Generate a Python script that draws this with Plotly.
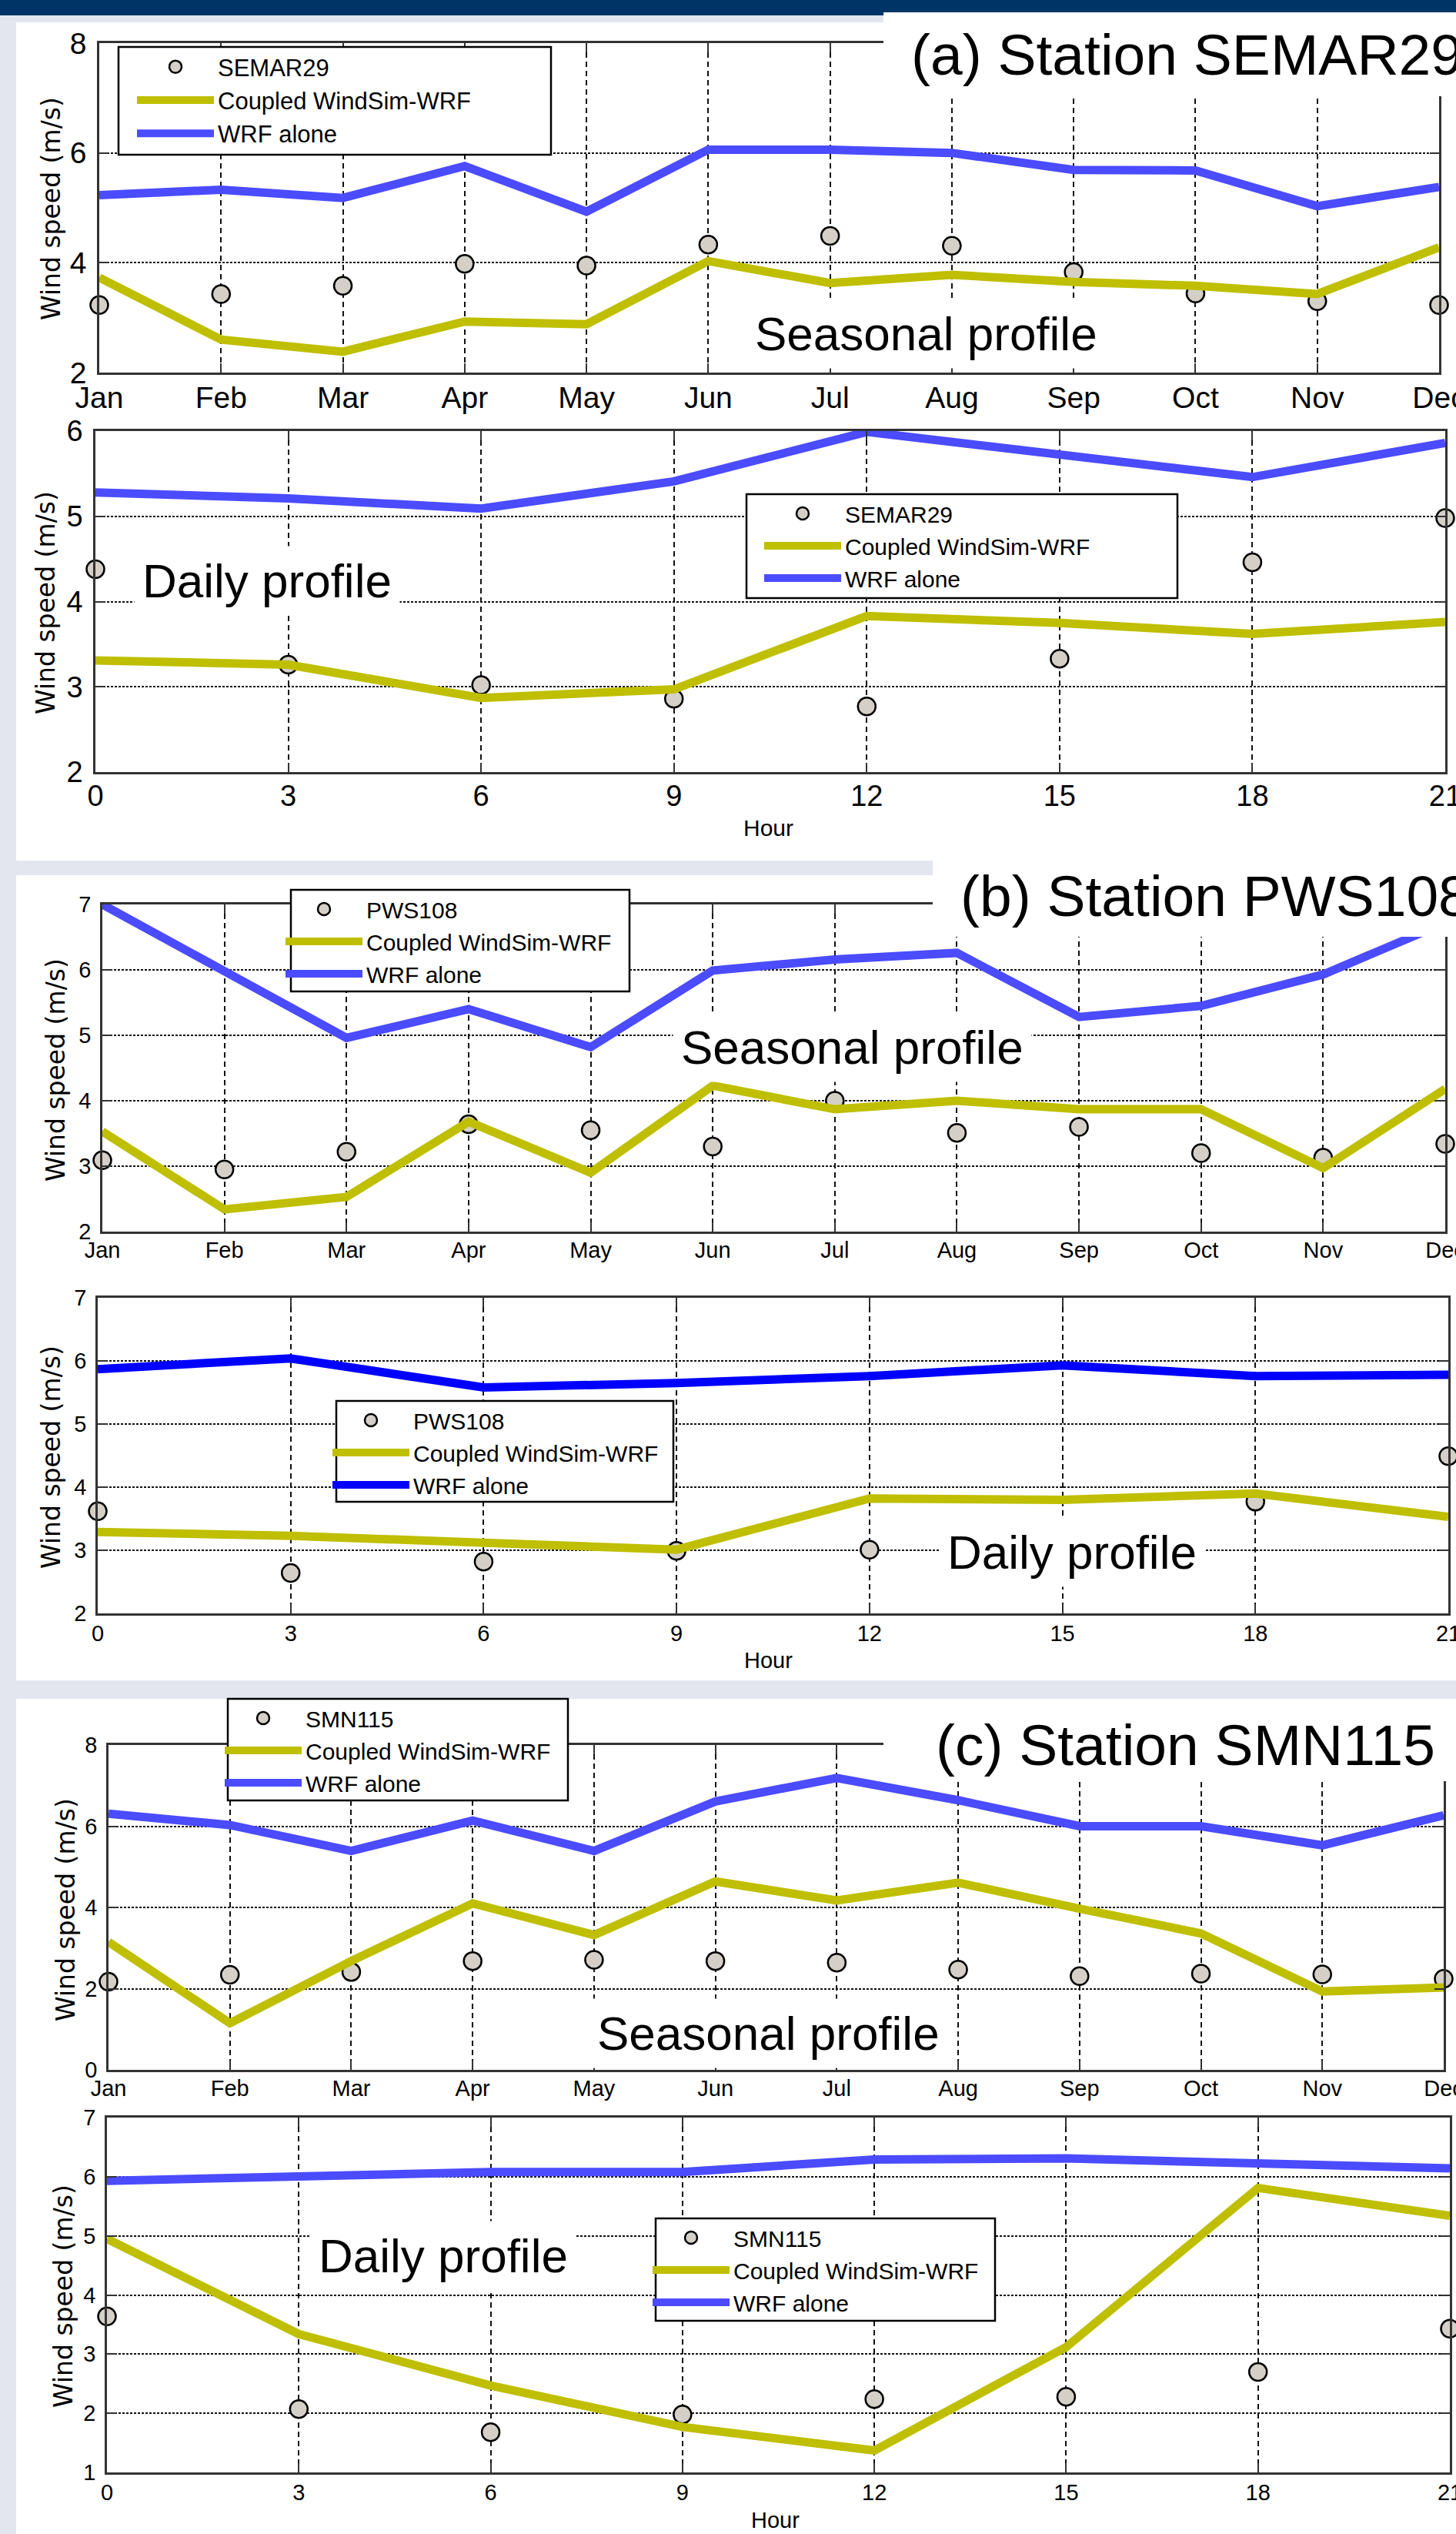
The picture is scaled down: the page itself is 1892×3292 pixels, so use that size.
import plotly.graph_objects as go

# ---------------- data ----------------
months = ["Jan", "Feb", "Mar", "Apr", "May", "Jun", "Jul", "Aug", "Sep", "Oct", "Nov", "Dec"]
hours = [0, 3, 6, 9, 12, 15, 18, 21]
hour_labels = ["0", "3", "6", "9", "12", "15", "18", "21"]

a_season_obs = [3.23, 3.43, 3.58, 3.98, 3.95, 4.33, 4.49, 4.31, 3.83, 3.44, 3.30, 3.23]
a_season_coupled = [3.73, 2.60, 2.38, 2.93, 2.88, 4.03, 3.63, 3.78, 3.65, 3.58, 3.43, 4.28]
a_season_wrf = [5.23, 5.33, 5.18, 5.76, 4.93, 6.06, 6.06, 6.00, 5.69, 5.68, 5.03, 5.38]

a_daily_obs = [4.38, 3.26, 3.02, 2.86, 2.77, 3.33, 4.46, 4.98]
a_daily_coupled = [3.31, 3.26, 2.87, 2.97, 3.83, 3.75, 3.62, 3.76]
a_daily_wrf = [5.28, 5.21, 5.09, 5.41, 5.99, 5.73, 5.46, 5.86]

b_season_obs = [3.09, 2.95, 3.22, 3.64, 3.55, 3.30, 4.00, 3.51, 3.60, 3.20, 3.13, 3.34]
b_season_coupled = [3.53, 2.34, 2.53, 3.68, 2.90, 4.23, 3.87, 4.00, 3.87, 3.87, 2.97, 4.18]
b_season_wrf = [7.00, 5.97, 4.96, 5.40, 4.82, 5.99, 6.16, 6.26, 5.28, 5.45, 5.93, 6.72]

b_daily_obs = [3.62, 2.64, 2.82, 2.99, 3.01, None, 3.77, 4.49]
b_daily_coupled = [3.29, 3.23, 3.12, 3.01, 3.82, 3.80, 3.90, 3.53]
b_daily_wrf = [5.87, 6.04, 5.58, 5.65, 5.76, 5.93, 5.76, 5.78]

c_season_obs = [2.17, 2.34, 2.41, 2.68, 2.71, 2.68, 2.64, 2.47, 2.31, 2.37, 2.35, 2.24]
c_season_coupled = [3.15, 1.15, 2.68, 4.10, 3.32, 4.64, 4.17, 4.61, 3.97, 3.36, 1.93, 2.03]
c_season_wrf = [6.31, 6.03, 5.39, 6.14, 5.39, 6.61, 7.19, 6.64, 6.00, 6.00, 5.53, 6.27]

c_daily_obs = [3.64, 2.07, 1.68, 1.98, 2.24, 2.28, 2.70, 3.43]
c_daily_coupled = [4.95, 3.34, 2.47, 1.77, 1.37, 3.12, 5.81, 5.34]
c_daily_wrf = [5.93, 6.02, 6.08, 6.08, 6.29, 6.31, 6.22, 6.14]

stations = ["SEMAR29", "PWS108", "SMN115"]
titles = ["(a) Station SEMAR29", "(b) Station PWS108", "(c) Station SMN115"]
name_coupled = "Coupled WindSim-WRF"
name_wrf = "WRF alone"
ytitle = "Wind speed (m/s)"
xtitle = "Hour"

# ---------------- layout helpers ----------------
W, H = 1892, 3292


def fx(x):
    return x / W


def fy(y):
    return 1 - y / H


FONT = "Liberation Sans, Arial, Helvetica, sans-serif"
YT_FONT = "DejaVu Sans, Verdana, sans-serif"
BLUE = "#4b4bff"
BLUE_DARK = "#0000ff"
YEL = "#bfbf00"
OBS_FILL = "#d4d0c8"
BG = "#e3e6ee"
NAVY = "#003366"

# leg = (left, right, top, bottom, text offset from left)
panels = [
    dict(kind="s", obs=a_season_obs, cpl=a_season_coupled, wrf=a_season_wrf, st=0,
         dom=(129, 1870, 56, 484), yr=[2, 8], dt=2, tf=39, blue=BLUE,
         leg=(154, 716, 61, 201, 129), lf=31, yt=(66, 271), xs=-4),
    dict(kind="d", obs=a_daily_obs, cpl=a_daily_coupled, wrf=a_daily_wrf, st=0,
         dom=(124, 1878, 560, 1003), yr=[2, 6], dt=1, tf=38, blue=BLUE,
         leg=(970, 1530, 642, 777, 128), lf=30, yt=(60, 783), xt=(998, 1075, 30), xs=-4),
    dict(kind="s", obs=b_season_obs, cpl=b_season_coupled, wrf=b_season_wrf, st=1,
         dom=(133, 1878, 1175, 1600), yr=[2, 7], dt=1, tf=29, blue=BLUE,
         leg=(378, 818, 1156, 1288, 98), lf=30, yt=(72, 1390), xs=-4),
    dict(kind="d", obs=b_daily_obs, cpl=b_daily_coupled, wrf=b_daily_wrf, st=1,
         dom=(127, 1882, 1686, 2096), yr=[2, 7], dt=1, tf=29, blue=BLUE_DARK,
         leg=(437, 875, 1820, 1951, 100), lf=30, yt=(66, 1893), xt=(998, 2157, 29), xs=-2),
    dict(kind="s", obs=c_season_obs, cpl=c_season_coupled, wrf=c_season_wrf, st=2,
         dom=(141, 1876, 2267, 2689), yr=[0, 8], dt=2, tf=29, blue=BLUE,
         leg=(296, 738, 2207, 2339, 101), lf=30, yt=(85, 2481), xs=-4),
    dict(kind="d", obs=c_daily_obs, cpl=c_daily_coupled, wrf=c_daily_wrf, st=2,
         dom=(139, 1884, 2751, 3212), yr=[1, 7], dt=1, tf=29, blue=BLUE,
         leg=(852, 1293, 2882, 3015, 101), lf=30, yt=(82, 2983), xt=(1007, 3274, 29), xs=-2),
]

fig = go.Figure()
shapes = []
annotations = []
layout = dict(
    width=W, height=H, autosize=False,
    margin=dict(l=0, r=0, t=0, b=0, pad=0, autoexpand=False),
    paper_bgcolor=BG, plot_bgcolor="white",
    showlegend=True,
)

# background panels (slide look)
shapes += [
    dict(type="rect", xref="paper", yref="paper", x0=0, x1=1, y0=fy(20), y1=1,
         fillcolor=NAVY, line_width=0, layer="below"),
    dict(type="rect", xref="paper", yref="paper", x0=fx(21), x1=1, y0=fy(1118), y1=fy(29),
         fillcolor="white", line_width=0, layer="below"),
    dict(type="rect", xref="paper", yref="paper", x0=fx(1149), x1=1, y0=fy(1118), y1=fy(16),
         fillcolor="white", line_width=0, layer="below"),
    dict(type="rect", xref="paper", yref="paper", x0=fx(21), x1=1, y0=fy(2183), y1=fy(1137),
         fillcolor="white", line_width=0, layer="below"),
    dict(type="rect", xref="paper", yref="paper", x0=fx(21), x1=1, y0=0, y1=fy(2207),
         fillcolor="white", line_width=0, layer="below"),
]

ITEMW = 100

for i, p in enumerate(panels):
    n = i + 1
    xa, ya = ("x", "y") if n == 1 else (f"x{n}", f"y{n}")
    legname = "legend" if n == 1 else f"legend{n}"
    xvals = months if p["kind"] == "s" else hours
    station = stations[p["st"]]

    fig.add_trace(go.Scatter(
        x=xvals, y=p["obs"], mode="markers", name=station,
        marker=dict(symbol="circle", size=23, color=OBS_FILL, line=dict(color="black", width=2.5)),
        xaxis=xa, yaxis=ya, legend=legname, cliponaxis=False))
    fig.add_trace(go.Scatter(
        x=xvals, y=p["cpl"], mode="lines", name=name_coupled,
        line=dict(color=YEL, width=11), xaxis=xa, yaxis=ya,
        legend=legname, cliponaxis=False))
    fig.add_trace(go.Scatter(
        x=xvals, y=p["wrf"], mode="lines", name=name_wrf,
        line=dict(color=p["blue"], width=11), xaxis=xa, yaxis=ya,
        legend=legname, cliponaxis=False))

    x0, x1, y0, y1 = p["dom"]
    axis_common = dict(
        showline=True, linewidth=2.5, linecolor="#333", mirror="ticks",
        ticks="inside", ticklen=12, tickwidth=1.5, tickcolor="#333",
        showgrid=True, gridcolor="#111", gridwidth=1.6, zeroline=False,
        tickfont=dict(family=FONT, size=p["tf"], color="black"),
        fixedrange=True, automargin=False,
    )
    xkey = "xaxis" if n == 1 else f"xaxis{n}"
    ykey = "yaxis" if n == 1 else f"yaxis{n}"
    if p["kind"] == "s":
        xax = dict(type="category", categoryorder="array", categoryarray=months,
                   range=[0, len(months) - 1])
    else:
        xax = dict(type="linear", range=[0, 21], tickvals=hours, ticktext=hour_labels)
    xax.update(axis_common)
    xax.update(domain=[fx(x0), fx(x1)], anchor=ya, griddash="7px,5px",
               tickangle=0, ticklabelstandoff=p["xs"], ticklabeloverflow="allow")
    yax = dict(axis_common)
    yax.update(domain=[fy(y1), fy(y0)], anchor=xa, range=p["yr"], dtick=p["dt"],
               tick0=0, griddash="3px,2px", ticklabelstandoff=6, ticklabeloverflow="allow")
    layout[xkey] = xax
    layout[ykey] = yax

    # legend box + legend
    lx0, lx1, ly0, ly1, toff = p["leg"]
    shapes.append(dict(type="rect", xref="paper", yref="paper",
                       x0=fx(lx0), x1=fx(lx1), y0=fy(ly1), y1=fy(ly0),
                       fillcolor="white", line=dict(color="black", width=2.5), layer="above"))
    layout[legname] = dict(
        x=fx(lx0 + toff - ITEMW - 10), y=fy(ly0 - 1), xanchor="left", yanchor="top",
        bgcolor="rgba(0,0,0,0)", borderwidth=0, itemwidth=ITEMW,
        font=dict(family=FONT, size=p["lf"], color="black"),
        itemsizing="trace",
    )

    # y-axis title
    annotations.append(dict(
        text=ytitle, xref="paper", yref="paper", x=fx(p["yt"][0]), y=fy(p["yt"][1]),
        xanchor="center", yanchor="middle", textangle=-90, showarrow=False,
        font=dict(family=YT_FONT, size=33, color="black")))
    if "xt" in p:
        annotations.append(dict(
            text=xtitle, xref="paper", yref="paper", x=fx(p["xt"][0]), y=fy(p["xt"][1]),
            xanchor="center", yanchor="middle", showarrow=False,
            font=dict(family=FONT, size=p["xt"][2], color="black")))

# white boxes behind station titles
for (bx0, by0, bx1, by1) in [(1148, 16, 1892, 125), (1212, 1118, 1892, 1217), (1148, 2207, 1892, 2314)]:
    shapes.append(dict(type="rect", xref="paper", yref="paper",
                       x0=fx(bx0), x1=fx(bx1), y0=fy(by1), y1=fy(by0),
                       fillcolor="white", line_width=0, layer="above"))

# station titles
for t, (tx, ty) in zip(titles, [(1182, 71), (1246, 1164), (1214, 2267)]):
    annotations.append(dict(
        text=t, xref="paper", yref="paper", x=fx(tx), y=fy(ty),
        xanchor="left", yanchor="middle", showarrow=False,
        font=dict(family=FONT, size=75, color="black")))

# profile labels
for t, (cx, cy) in [("Seasonal profile", (1203, 433)), ("Daily profile", (347, 755)),
                    ("Seasonal profile", (1107, 1360)), ("Daily profile", (1393, 2016)),
                    ("Seasonal profile", (998, 2641)), ("Daily profile", (576, 2930))]:
    annotations.append(dict(
        text=t, xref="paper", yref="paper", x=fx(cx), y=fy(cy),
        xanchor="center", yanchor="middle", showarrow=False, bgcolor="white",
        borderpad=10, font=dict(family=FONT, size=62, color="black")))

layout["shapes"] = shapes
layout["annotations"] = annotations
fig.update_layout(**layout)

fig.write_html("out.html", config={"displayModeBar": False, "responsive": False},
               post_script="document.body.style.margin='0';document.body.style.padding='0';")
